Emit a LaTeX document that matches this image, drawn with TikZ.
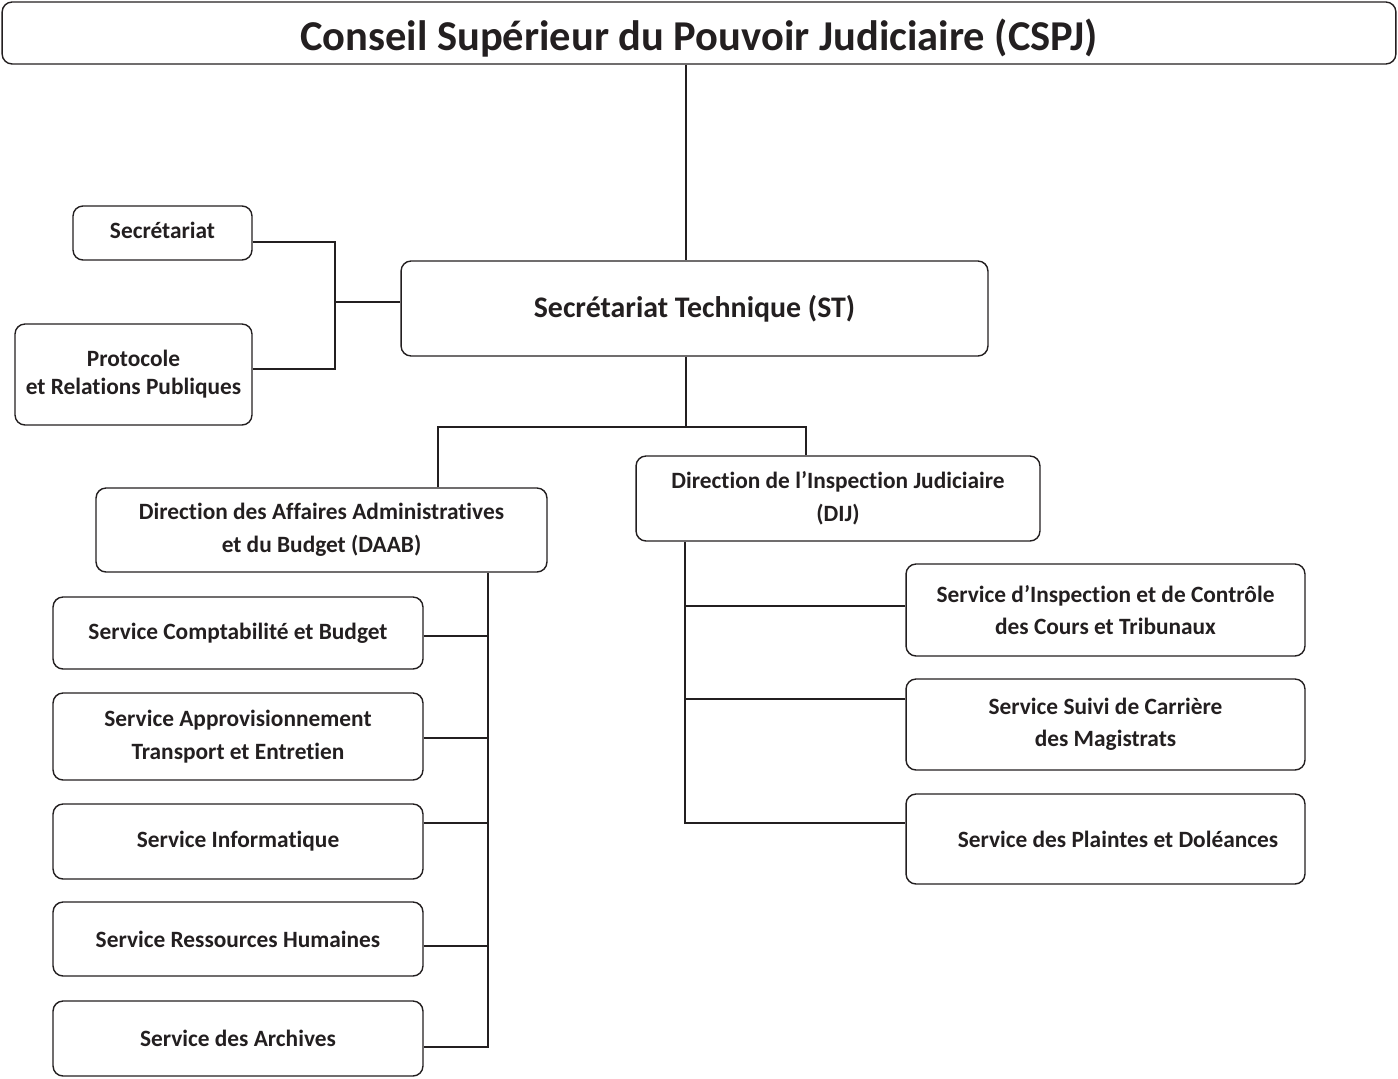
\documentclass[tikz,border=0pt]{standalone}
\usepackage{fontspec}
\setmainfont{Carlito}[Ligatures=NoCommon]
\usepackage{tikz}
\definecolor{ink}{HTML}{231F20}

\tikzset{
  unit/.style={draw=ink, line width=0.8pt, rounded corners=0.2cm, rectangle, inner sep=0pt,
    align=center, text=ink, font=\fontsize{13.3}{18.5}\selectfont\bfseries},
  link/.style={draw=ink, line width=0.8pt}
}

\begin{document}
\begin{tikzpicture}[x=0.02cm, y=-0.02cm]
\useasboundingbox (0,0) rectangle (1398,1078);

% top of the chart
\node[unit, minimum width=27.88cm, minimum height=1.24cm, font=\fontsize{24.2}{28}\selectfont\bfseries] (cspj) at (699,33)
{\raisebox{-3pt}[\height][\depth]{Conseil Supérieur du Pouvoir Judiciaire (CSPJ)}};
\node[unit, minimum width=11.74cm, minimum height=1.90cm, font=\fontsize{17}{21}\selectfont\bfseries] (st) at (694.5,308.5)
{Secrétariat Technique (ST)};

\node[unit, minimum width=3.58cm, minimum height=1.08cm] (secr) at (162.5,233)
{\raisebox{1.5pt}[\height][\depth]{Secrétariat}};
\node[unit, minimum width=4.74cm, minimum height=2.02cm, font=\fontsize{13.3}{16}\selectfont\bfseries] (proto) at (133.5,374.5)
{Protocole\\et Relations Publiques};

% directions
\node[unit, minimum width=9.02cm, minimum height=1.68cm] (daab) at (321.5,530)
{Direction des Affaires Administratives\\et du Budget (DAAB)};
\node[unit, minimum width=8.08cm, minimum height=1.70cm] (dij) at (838,498.5)
{Direction de l’Inspection Judiciaire\\(DIJ)};

% services DAAB
\node[unit, minimum width=7.40cm, minimum height=1.44cm] (compta) at (238,633) {Service Comptabilité et Budget};
\node[unit, minimum width=7.40cm, minimum height=1.74cm] (appro) at (238,736.5)
{Service Approvisionnement\\Transport et Entretien};
\node[unit, minimum width=7.40cm, minimum height=1.50cm] (info) at (238,841.5) {Service Informatique};
\node[unit, minimum width=7.40cm, minimum height=1.48cm] (rh) at (238,939) {Service Ressources Humaines};
\node[unit, minimum width=7.40cm, minimum height=1.50cm] (arch) at (238,1038.5) {Service des Archives};

% services DIJ
\node[unit, minimum width=7.98cm, minimum height=1.84cm] (insp) at (1105.5,610)
{Service d’Inspection et de Contrôle\\des Cours et Tribunaux};
\node[unit, minimum width=7.98cm, minimum height=1.82cm] (suivi) at (1105.5,724.5)
{Service Suivi de Carrière\\des Magistrats};
\node[unit, minimum width=7.98cm, minimum height=1.80cm] (plain) at (1105.5,839)
{\hspace*{0.5cm}Service des Plaintes et Doléances};

% junctions
\coordinate (trunk) at (686,0);
\coordinate (sj) at (335,302);
\coordinate (split) at (686,427);
\coordinate (ldrop) at (438,427);
\coordinate (rdrop) at (806,427);
\coordinate (lbus) at (488,0);
\coordinate (rbus) at (685,0);

\draw[link] (cspj.south -| trunk) -- (st.north -| trunk);
\draw[link] ([yshift=-0.18cm]secr.east) -| (sj) |- ([yshift=0.11cm]proto.east);
\draw[link] (sj) -- (sj -| st.west);
\draw[link] (st.south -| split) -- (split);
\draw[link] (ldrop |- daab.north) -- (ldrop) -- (rdrop) -- (rdrop |- dij.north);

\draw[link] (daab.south -| lbus) -- (lbus |- arch.east) -- ([yshift=-0.17cm]arch.east -| lbus) -- ([yshift=-0.17cm]arch.east);
\foreach \s/\dy in {compta/-0.06, appro/-0.03, info/0.37, rh/-0.14}
  \draw[link] ([yshift=\dy cm]\s.east) -- ([yshift=\dy cm]\s.east -| lbus);

\draw[link] (dij.south -| rbus) -- ([yshift=0.32cm]plain.west -| rbus) -- ([yshift=0.32cm]plain.west);
\foreach \s/\dy in {insp/0.08, suivi/0.51}
  \draw[link] ([yshift=\dy cm]\s.west) -- ([yshift=\dy cm]\s.west -| rbus);
\end{tikzpicture}
\end{document}
